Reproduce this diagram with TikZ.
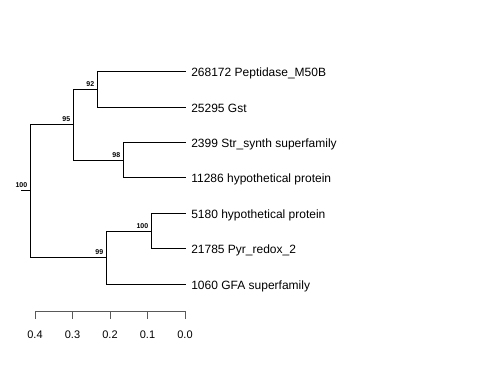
\documentclass[tikz,border=0pt]{standalone}
\usepackage{fontspec}
\setmainfont{Liberation Sans}
\usetikzlibrary{positioning}

\begin{document}
\begin{tikzpicture}[x=1pt, y=-1pt, line width=0.6pt,
  leaf/.style={anchor=base west, inner sep=0pt, xshift=5pt, yshift=-5.5pt, font=\fontsize{12}{14}\selectfont},
  boot/.style={above left, inner sep=2.5pt, font=\fontsize{7}{8}\selectfont\bfseries},
  tick/.style={anchor=base, inner sep=0pt, font=\fontsize{11}{13}\selectfont}]
	\useasboundingbox (0,0) rectangle (480,384);
	\coordinate (t1) at (186,71);
	\coordinate (t2) at (186,107);
	\coordinate (t3) at (186,142);
	\coordinate (t4) at (186,177);
	\coordinate (t5) at (186,213);
	\coordinate (t6) at (186,248);
	\coordinate (t7) at (186,284);
	\node[leaf] (l1) at (t1) {268172 Peptidase\_M50B};
	\node[leaf] (l2) at (t2) {25295 Gst};
	\node[leaf] (l3) at (t3) {2399 Str\_synth superfamily};
	\node[leaf] (l4) at (t4) {11286 hypothetical protein};
	\node[leaf] (l5) at (t5) {5180 hypothetical protein};
	\node[leaf] (l6) at (t6) {21785 Pyr\_redox\_2};
	\node[leaf] (l7) at (t7) {1060 GFA superfamily};
	\coordinate (a) at (97,89);
	\coordinate (b) at (123,160);
	\coordinate (c) at (73,124);
	\coordinate (d) at (151,231);
	\coordinate (e) at (106,257);
	\coordinate (root) at (30,190);
	\coordinate (stub) at (21,190);
	\draw (a) |- (t1); \draw (a) |- (t2);
	\draw (b) |- (t3); \draw (b) |- (t4);
	\draw (c) |- (a); \draw (c) |- (b);
	\draw (d) |- (t5); \draw (d) |- (t6);
	\draw (e) |- (d); \draw (e) |- (t7);
	\draw (root) |- (c); \draw (root) |- (e);
	\draw (stub) -- (root);
	\node[boot] at (a) {92};
	\node[boot] at (b) {98};
	\node[boot] at (c) {95};
	\node[boot] at (d) {100};
	\node[boot] at (e) {99};
	\node[boot] at (root) {100};
	\draw[gray!70!black] (35,311) coordinate (ax0) -- (185,311) coordinate (ax1);
	\foreach \v [count=\i] in {0.4,0.3,0.2,0.1,0.0} {
		\pgfmathsetmacro{\px}{185-\v*375}
		\draw[gray!70!black] (\px,311) -- (\px,319) coordinate (k\i);
		\node[tick] (v\i) at (\px,338) {\v};
	}
\end{tikzpicture}
\end{document}
